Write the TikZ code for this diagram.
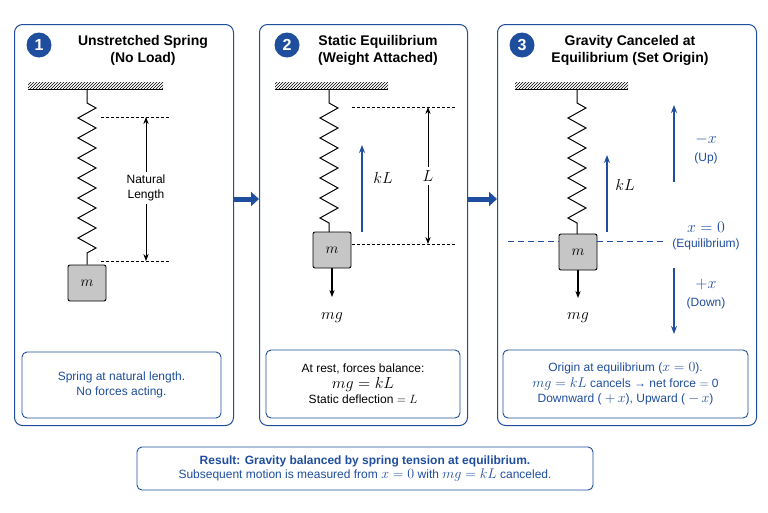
\documentclass[tikz,border=0pt]{standalone}
\usepackage{fix-cm}
\usepackage{fontspec}
\setmainfont{Liberation Sans}
\usetikzlibrary{decorations.pathmorphing,arrows.meta,patterns}
\definecolor{dblue}{HTML}{1F4E9E}
\begin{document}
\begin{tikzpicture}[x=1pt,y=-1pt,
  panel/.style={draw=dblue,line width=1pt,rounded corners=8pt},
  tbox/.style={draw=dblue,line width=0.9pt,rounded corners=5pt},
  badge/.style={circle,fill=dblue,text=white,font=\bfseries\fontsize{16}{16}\selectfont,minimum size=25pt,inner sep=0pt},
  ttl/.style={font=\bfseries\fontsize{14}{17}\selectfont,align=center},
  txt/.style={font=\fontsize{12}{14.5}\selectfont,text=dblue,align=center},
  mth/.style={font=\fontsize{16}{16}\selectfont},
  spring/.style={decorate,decoration={zigzag,segment length=20pt,amplitude=9pt,pre length=14pt,post length=5pt},line width=1pt},
  mass/.style={draw,fill=gray!45,rounded corners=2pt,line width=0.9pt,minimum width=38pt,minimum height=36pt,font=\fontsize{15}{15}\selectfont},
  dim/.style={densely dashed,line width=0.6pt},
  ar/.style={-{Stealth[length=7pt]},line width=0.8pt},
  bar/.style={-{Stealth[length=8pt]},line width=1.2pt,dblue},
  bigarr/.style={-{Triangle[length=8pt,width=14pt]},line width=5pt,dblue}]
\useasboundingbox (0,0) rectangle (768,512);
\fill[white] (0,0) rectangle (768,512);
% panels
\node[panel,minimum width=219pt,minimum height=401pt,anchor=north west] (p1) at (14,24) {};
\node[panel,minimum width=208pt,minimum height=401pt,anchor=north west] (p2) at (259,24) {};
\node[panel,minimum width=259pt,minimum height=401pt,anchor=north west] (p3) at (497,24) {};
\draw[bigarr] (p1.east|-0,199) -- (p2.west|-0,199);
\draw[bigarr] (p2.east|-0,199) -- (p3.west|-0,199);
% ---- panel 1
\node[badge] (b1) at (39,45) {1};
\node[ttl] (t1) at (143,50) {Unstretched Spring\\(No Load)};
\fill[pattern=north east lines] (28,82) rectangle (163,89);
\draw[line width=0.9pt] (28,89) -- (163,89);
\node[mass] (m1) at (87,283) {$m$};
\draw[spring] (87,89) -- (m1.north);
\draw[dim] (101,117) -- (170,117); \draw[dim] (101,261) -- (170,261);
\node[font=\fontsize{12}{14.5}\selectfont,align=center,fill=white] (nl) at (146,188) {Natural\\Length};
\draw[ar] (nl.north) -- (146,117);
\draw[ar] (nl.south) -- (146,261);
\node[tbox,minimum width=199pt,minimum height=66pt] (x1) at (121.5,385) {};
\node[txt] at (x1) {Spring at natural length.\\No forces acting.};
% ---- panel 2
\node[badge] (b2) at (287,45) {2};
\node[ttl] (t2) at (378,50) {Static Equilibrium\\(Weight Attached)};
\fill[pattern=north east lines] (275,82) rectangle (388,89);
\draw[line width=0.9pt] (275,89) -- (388,89);
\node[mass] (m2) at (332,250) {$m$};
\draw[spring] (329,89) -- (329,232);
\draw[ar,line width=1.1pt] (m2.south) -- (332,297);
\node[mth] (mg2) at (332,318) {$mg$};
\draw[bar] (362,232) -- (362,145);
\node[mth] (kl2) at (383,178) {$kL$};
\draw[dim] (352,107) -- (456,107); \draw[dim] (352,244) -- (456,244);
\node[mth,fill=white] (L2) at (428,176) {$L$};
\draw[ar] (L2.north) -- (428,107);
\draw[ar] (L2.south) -- (428,244);
\node[tbox,minimum width=194pt,minimum height=68pt] (x2) at (363,384) {};
\node[font=\fontsize{12}{14.5}\selectfont,align=center] at (x2) {At rest, forces balance:\\[1pt]{\fontsize{16}{16}\selectfont$mg = kL$}\\[1pt]Static deflection $=$ $L$};
% ---- panel 3
\node[badge] (b3) at (522,45) {3};
\node[ttl] (t3) at (630,50) {Gravity Canceled at\\Equilibrium (Set Origin)};
\fill[pattern=north east lines] (515,82) rectangle (628,89);
\draw[line width=0.9pt] (515,89) -- (628,89);
\node[mass] (m3) at (578,252) {$m$};
\draw[spring] (577,89) -- (577,234);
\draw[dblue,line width=0.9pt,dash pattern=on 6pt off 4pt] (508,241) -- (m3.west|-0,241);
\draw[dblue,line width=0.9pt,dash pattern=on 6pt off 4pt] (m3.east|-0,241) -- (665,241);
\draw[bar] (607,232) -- (607,155);
\node[mth] (kl3) at (625,185) {$kL$};
\draw[ar,line width=1.1pt] (m3.south) -- (578,298);
\node[mth] (mg3) at (578,318) {$mg$};
\draw[bar] (674,182) -- (674,105);
\node[txt] (up) at (706,149) {{\fontsize{16}{16}\selectfont$-x$}\\[3pt](Up)};
\node[txt] (eq) at (706,236) {{\fontsize{16}{16}\selectfont$x = 0$}\\[1pt](Equilibrium)};
\draw[bar] (674,268) -- (674,334);
\node[txt] (dn) at (706,294) {{\fontsize{16}{16}\selectfont$+x$}\\[3pt](Down)};
\node[tbox,minimum width=245pt,minimum height=68pt] (x3) at (625.5,384) {};
\node[txt] at (x3) {Origin at equilibrium ({\fontsize{14}{14}\selectfont$x = 0$}).\\[1pt]{\fontsize{14}{14}\selectfont$mg = kL$} cancels → net force $=$ 0\\[1pt]Downward ( {\fontsize{14}{14}\selectfont$+\,x$}), Upward ( {\fontsize{14}{14}\selectfont$-\,x$})};
% ---- bottom
\node[tbox,minimum width=456pt,minimum height=43pt] (res) at (365,468.5) {};
\node[txt] at (res) {\textbf{Result: Gravity balanced by spring tension at equilibrium.}\\Subsequent motion is measured from {\fontsize{14}{14}\selectfont$x = 0$} with {\fontsize{14}{14}\selectfont$mg = kL$} canceled.};
\end{tikzpicture}
\end{document}
